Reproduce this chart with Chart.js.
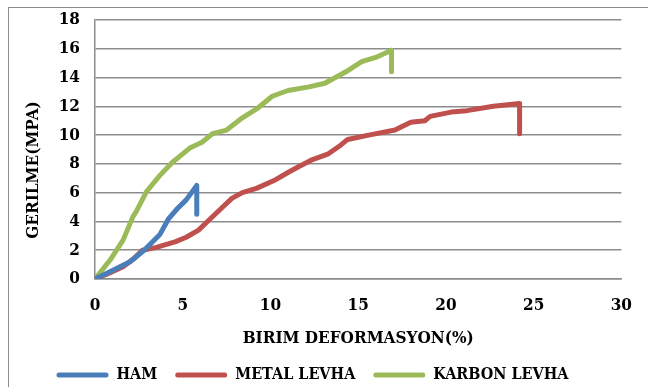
<!DOCTYPE html>
<html>
<head>
<meta charset="utf-8">
<script src="https://cdn.jsdelivr.net/npm/chart.js@4/dist/chart.umd.min.js"></script>
<style>
  html, body { margin: 0; padding: 0; background: #ffffff; }
  #wrap { position: relative; width: 648px; height: 387px; }
</style>
</head>
<body>
<div id="wrap"><canvas id="c" width="648" height="387"></canvas></div>
<script>
// Stress–strain curves: strain (%) on x, stress (MPa) on y
const hamX = [0, 0.85, 2.0, 2.8, 3.7, 4.2, 4.7, 5.2, 5.8, 5.8];
const hamY = [0, 0.5, 1.2, 2.0, 3.1, 4.2, 4.9, 5.5, 6.5, 4.5];

const metalX = [0, 0.8, 1.6, 2.2, 2.7, 3.5, 4.6, 5.2, 5.9, 6.5, 7.1, 7.8, 8.4, 9.2, 10.3, 11.0, 11.6, 12.4, 13.3, 14.0, 14.4, 15.6, 17.1, 17.5, 18.0, 18.8, 19.1, 20.3, 21.2, 22.7, 24.2, 24.2];
const metalY = [0, 0.4, 0.85, 1.4, 2.0, 2.2, 2.6, 2.9, 3.4, 4.1, 4.8, 5.6, 6.0, 6.3, 6.9, 7.4, 7.8, 8.3, 8.7, 9.3, 9.7, 10.0, 10.35, 10.6, 10.9, 11.0, 11.3, 11.6, 11.7, 12.0, 12.2, 10.1];

const karbonX = [0, 0.85, 1.6, 2.15, 2.4, 2.95, 3.7, 4.4, 5.4, 6.1, 6.7, 7.5, 8.4, 9.3, 10.1, 11.0, 12.2, 13.1, 13.7, 14.3, 15.2, 16.0, 16.9, 16.9];
const karbonY = [0, 1.3, 2.7, 4.3, 4.8, 6.1, 7.2, 8.1, 9.1, 9.5, 10.1, 10.35, 11.2, 11.9, 12.7, 13.1, 13.35, 13.6, 14.0, 14.4, 15.1, 15.4, 15.9, 14.4];

const seriesNames = ['HAM', 'METAL LEVHA', 'KARBON LEVHA'];
const seriesColors = ['#4a7ebb', '#c0504d', '#9bbb59'];
const xTitle = 'BIRIM DEFORMASYON(%)';
const yTitle = 'GERILME(MPA)';

const pairs = (xs, ys) => xs.map((x, i) => ({ x: x, y: ys[i] }));

const FONT = "'DejaVu Serif Condensed', 'DejaVu Serif', serif";

// Thin grey frame around the whole chart, plus the rotated y-axis title
const decor = {
  id: 'decor',
  beforeDraw(chart) {
    const ctx = chart.ctx;
    ctx.save();
    ctx.strokeStyle = '#8c8c8c';
    ctx.lineWidth = 1;
    ctx.strokeRect(8.5, 7.5, 700, 420);
    ctx.restore();
  },
  afterDraw(chart) {
    const ctx = chart.ctx;
    ctx.save();
    ctx.translate(34, 170);
    ctx.rotate(-Math.PI / 2);
    ctx.font = "bold 17px " + FONT;
    ctx.fillStyle = '#000';
    ctx.textAlign = 'center';
    ctx.textBaseline = 'middle';
    ctx.fillText(yTitle, 0, 0);
    ctx.restore();
  }
};

const mk = (i, xs, ys) => ({
  label: seriesNames[i],
  data: pairs(xs, ys),
  showLine: true,
  borderColor: seriesColors[i],
  backgroundColor: seriesColors[i],
  borderWidth: 5,
  pointRadius: 0,
  tension: 0,
  borderCapStyle: 'round',
  borderJoinStyle: 'round'
});

new Chart(document.getElementById('c'), {
  type: 'scatter',
  data: {
    datasets: [mk(0, hamX, hamY), mk(1, metalX, metalY), mk(2, karbonX, karbonY)]
  },
  plugins: [decor],
  options: {
    responsive: false,
    animation: false,
    layout: { padding: { left: 0, right: 23, top: 20, bottom: -6 } },
    plugins: {
      tooltip: { enabled: false },
      legend: {
        position: 'bottom',
        labels: {
          color: '#000',
          font: { family: FONT, size: 16, weight: 'bold' },
          boxWidth: 52,
          boxHeight: 5,
          padding: 18,
          generateLabels(chart) {
            return chart.data.datasets.map((d, i) => ({
              text: d.label,
              fillStyle: d.borderColor,
              strokeStyle: d.borderColor,
              lineWidth: 0,
              datasetIndex: i,
              borderRadius: 2.5
            }));
          }
        }
      }
    },
    scales: {
      x: {
        type: 'linear',
        min: 0, max: 30,
        ticks: { stepSize: 5, color: '#000', font: { family: FONT, size: 17, weight: 'bold' }, padding: 16, maxRotation: 0 },
        grid: { display: false, drawTicks: false },
        border: { display: true, color: '#8c8c8c', width: 1.5 },
        title: { display: true, text: xTitle, color: '#000', font: { family: FONT, size: 17, weight: 'bold' }, padding: { top: 4, bottom: 0 } },
        afterFit(scale) { scale.height = 70; }
      },
      y: {
        min: 0, max: 18,
        ticks: { stepSize: 2, color: '#000', font: { family: FONT, size: 17, weight: 'bold' }, padding: 4 },
        grid: { color: '#8c8c8c', lineWidth: 1.5, drawTicks: true, tickLength: 11, tickColor: 'rgba(0,0,0,0)' },
        border: { display: true, color: '#8c8c8c', width: 1.5 },
        title: { display: false },
        afterFit(scale) { scale.width = 95; }
      }
    }
  }
});
</script>
</body>
</html>
